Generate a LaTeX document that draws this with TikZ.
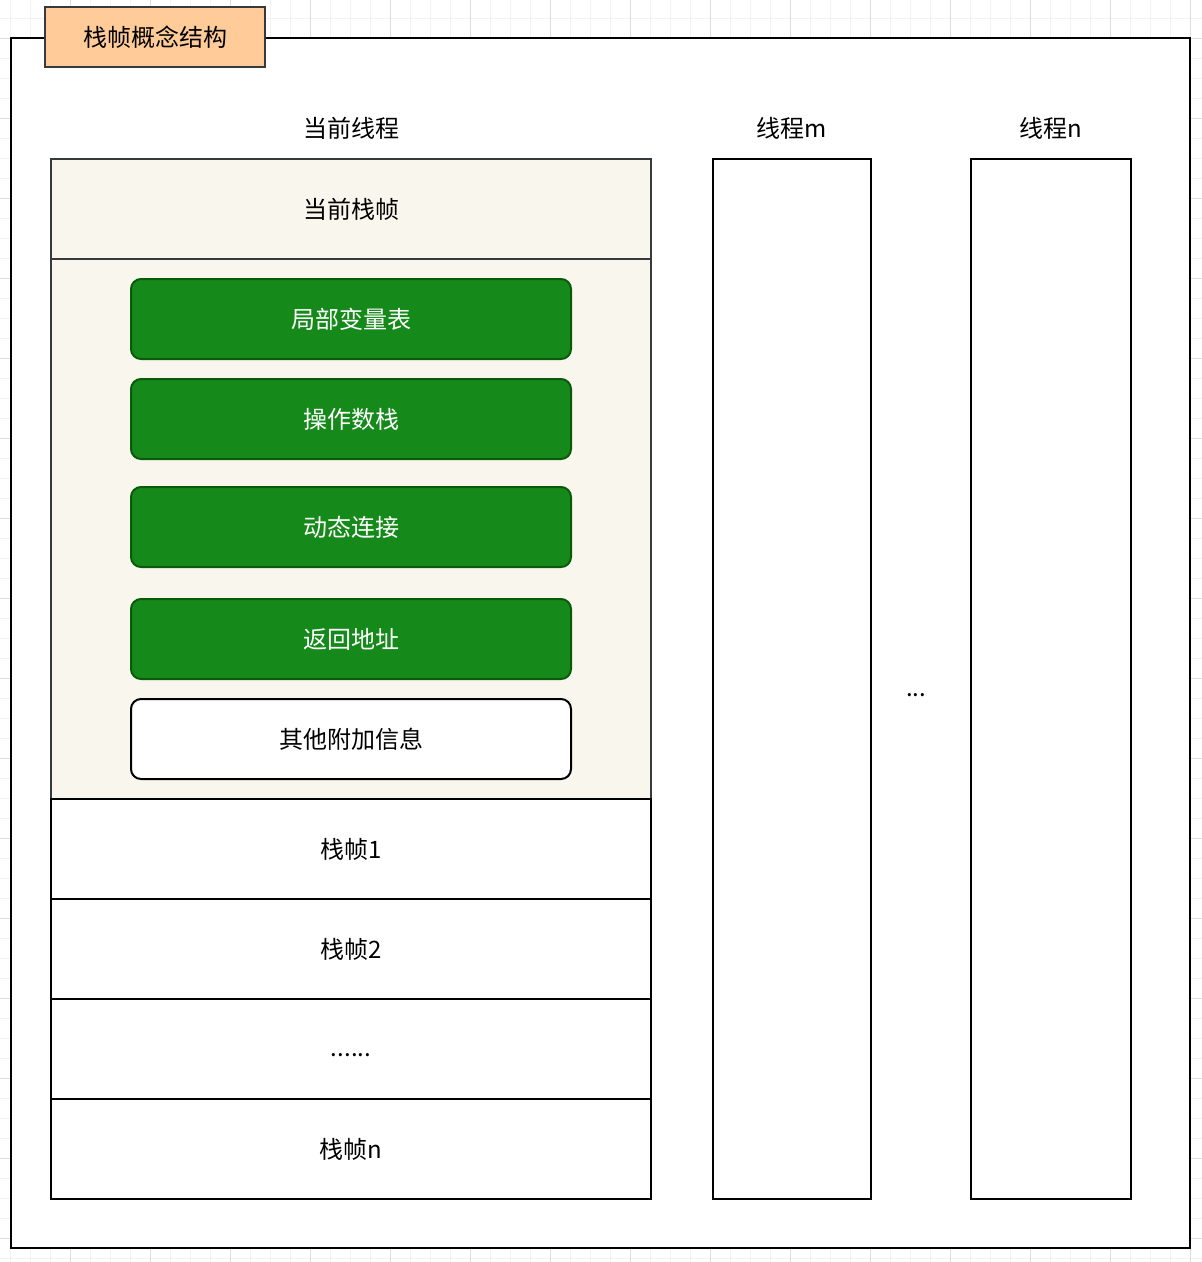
\documentclass[tikz,border=0pt]{standalone}
\usepackage{fontspec}
\usepackage{xcolor}
\usepackage{tikz}
\newfontfamily\cjk{Noto Sans CJK SC}
\definecolor{ink}{HTML}{000000}
\definecolor{edge}{HTML}{36393D}
\definecolor{peach}{HTML}{FFCC99}
\definecolor{beige}{HTML}{F9F7ED}
\definecolor{leaf}{HTML}{15891A}
\definecolor{leafdark}{HTML}{0B5A0B}
\definecolor{gridminor}{HTML}{F2F2F2}
\definecolor{gridmajor}{HTML}{DDDDDD}
\tikzset{
  txt/.style={font=\cjk\fontsize{24}{28}\selectfont, text=ink},
  box/.style={draw=ink, line width=2pt, fill=white, outer sep=0pt, inner sep=0pt},
  headbox/.style={box, draw=edge, fill=peach, minimum width=220, minimum height=60, txt},
  stackframe/.style={box, minimum width=600, minimum height=100, txt},
  curframe/.style={stackframe, draw=edge, fill=beige},
  part/.style={box, rounded corners=10pt, draw=leafdark, fill=leaf, minimum width=440, minimum height=80, txt, text=white},
  extra/.style={part, draw=ink, fill=white, text=ink},
  thread/.style={box, minimum height=1040},
}
\begin{document}
\begin{tikzpicture}[x=1pt, y=-1pt]
  \useasboundingbox (0,0) rectangle (1202,1262);
  % background grid
  \foreach \x in {10,30,...,1200} \draw[gridminor, line width=1pt] (\x,0) -- (\x,1262);
  \foreach \y in {18,38,...,1260} \draw[gridminor, line width=1pt] (0,\y) -- (1202,\y);
  \foreach \x in {70,150,...,1200} \draw[gridmajor, line width=1pt] (\x,0) -- (\x,1262);
  \foreach \y in {38,118,...,1260} \draw[gridmajor, line width=1pt] (0,\y) -- (1202,\y);

  \node[box, minimum width=1179, minimum height=1210] (outer) at (600.5,643) {};
  \node[headbox] (head) at (155,37) {栈帧概念结构};

  % current thread
  \node[txt] (curlab) at (351,128) {当前线程};
  \node[box, draw=edge, fill=beige, minimum width=600, minimum height=540] (body) at (351,529) {};
  \node[curframe] (cur) at (351,209) {当前栈帧};
  \node[part] (locals) at (351,319) {局部变量表};
  \node[part] (operand) at (351,419) {操作数栈};
  \node[part] (dynlink) at (351,527) {动态连接};
  \node[part] (retaddr) at (351,639) {返回地址};
  \node[extra] (other) at (351,739) {其他附加信息};
  \node[stackframe] (f1) at (351,849) {栈帧1};
  \node[stackframe] (f2) at (351,949) {栈帧2};
  \node[stackframe] (fdots) at (351,1049) {};
  \node[txt] (fdotslab) at (351,1055) {......};
  \node[stackframe] (fn) at (351,1149) {栈帧n};

  % other threads
  \node[txt] (mlab) at (792,128) {线程m};
  \node[thread, minimum width=158] (tm) at (792,679) {};
  \node[txt] (gap) at (916,695) {...};
  \node[txt] (nlab) at (1051,128) {线程n};
  \node[thread, minimum width=160] (tn) at (1051,679) {};
\end{tikzpicture}
\end{document}
